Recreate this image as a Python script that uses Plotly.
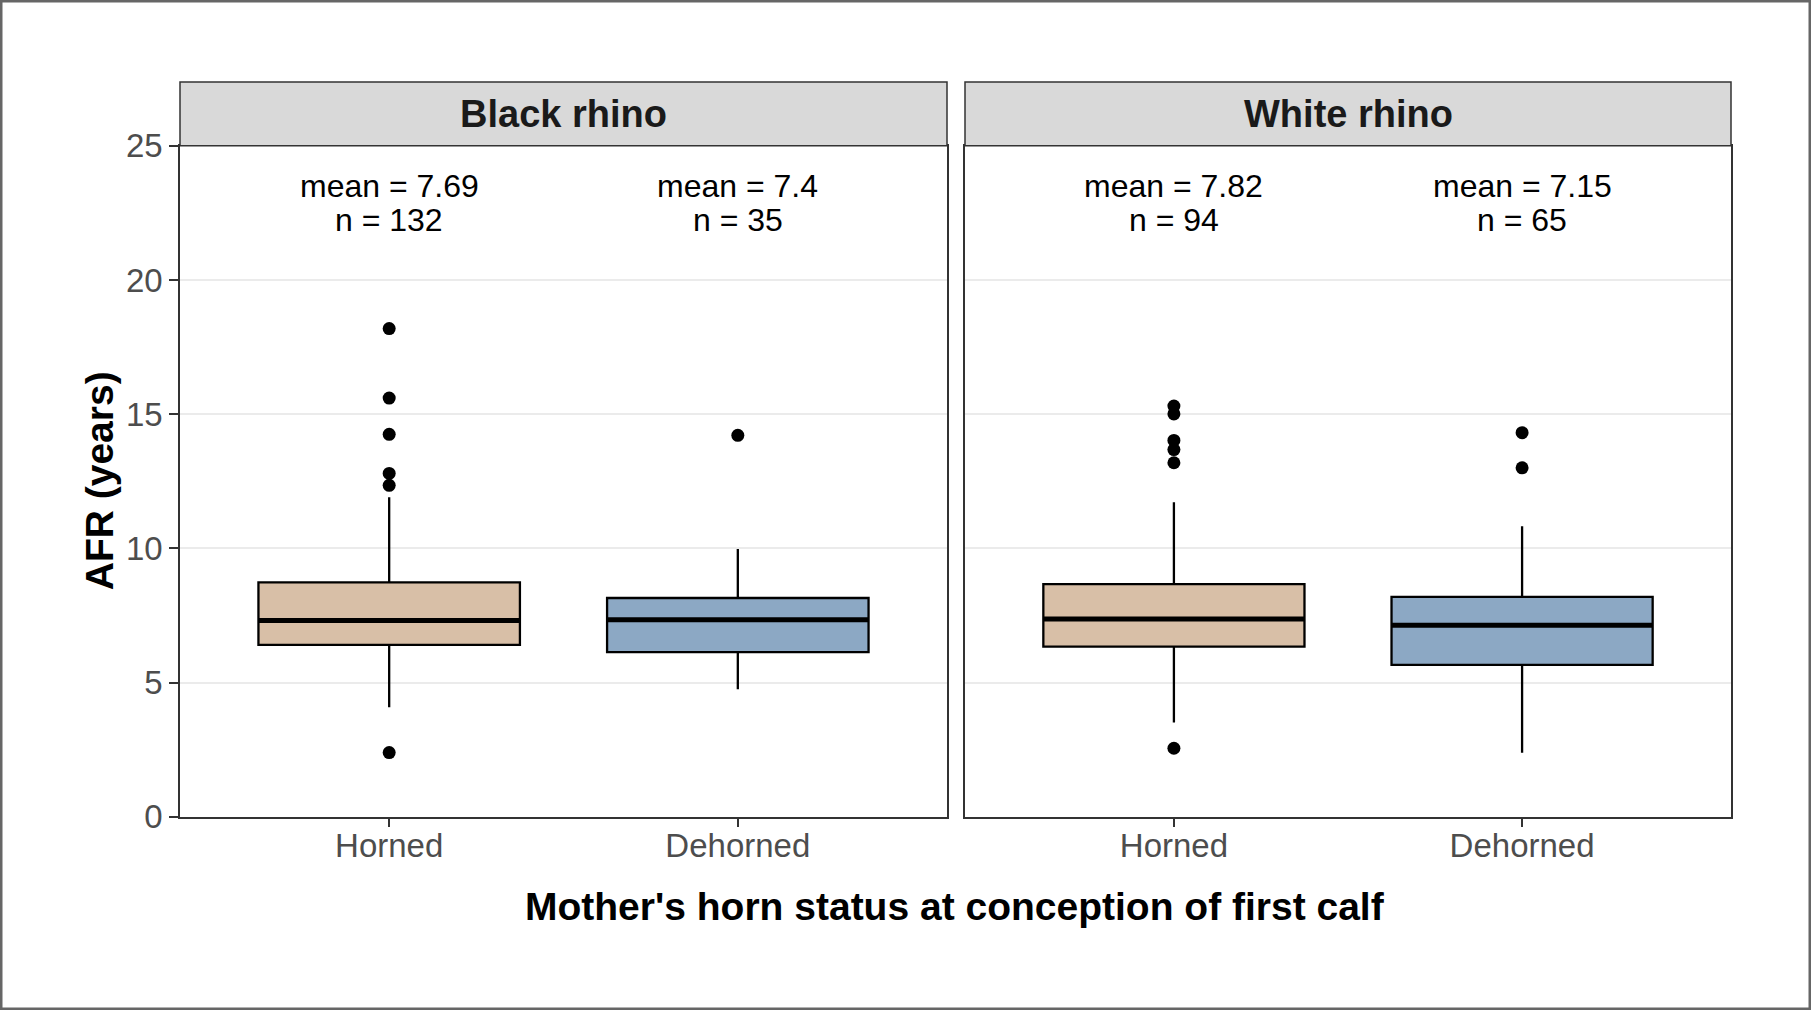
import plotly.graph_objects as go

# facets and categories
species = ["Black rhino", "White rhino"]
status = ["Horned", "Dehorned"]

# box statistics (AFR, years)
black_q1 = [6.40, 6.13]
black_median = [7.31, 7.34]
black_q3 = [8.73, 8.15]
black_lower = [4.08, 4.75]
black_upper = [11.90, 9.98]
black_outliers = [[18.19, 15.60, 14.25, 12.79, 12.35, 2.39], [14.21]]
black_mean = [7.69, 7.4]
black_n = [132, 35]

white_q1 = [6.34, 5.66]
white_median = [7.37, 7.13]
white_q3 = [8.67, 8.19]
white_lower = [3.51, 2.38]
white_upper = [11.72, 10.82]
white_outliers = [[15.30, 15.01, 14.02, 13.68, 13.19, 2.55], [14.31, 13.00]]
white_mean = [7.82, 7.15]
white_n = [94, 65]

y_ticks = [0, 5, 10, 15, 20, 25]

fills = ["#D8BFA7", "#8CA8C4"]
FONT = "Liberation Sans, Arial, Helvetica, sans-serif"
W, H = 1811, 1010

panels = [
    (black_q1, black_median, black_q3, black_lower, black_upper, black_outliers, black_mean, black_n),
    (white_q1, white_median, white_q3, white_lower, white_upper, white_outliers, white_mean, white_n),
]

# pixel layout -> paper fractions
x_domains = [[180 / W, 947 / W], [965 / W, 1731 / W]]
panel_bottom = (H - 816.7) / H
panel_top = (H - 145.8) / H
strip_top = (H - 82) / H

fig = go.Figure()
annotations = []
shapes = []
bw = 0.75

for p, (q1, med, q3, lo, hi, outs, means, ns) in enumerate(panels):
    xa = "x" if p == 0 else "x2"
    ya = "y" if p == 0 else "y2"
    for i in range(len(status)):
        xc = i + 1
        fig.add_trace(go.Box(
            x=[xc], q1=[q1[i]], median=[med[i]], q3=[q3[i]],
            lowerfence=[lo[i]], upperfence=[hi[i]],
            width=bw, whiskerwidth=0, boxpoints=False,
            fillcolor=fills[i], line=dict(color="black", width=2.3),
            xaxis=xa, yaxis=ya, showlegend=False, hoverinfo="skip"))
        # thicker median line like ggplot
        fig.add_trace(go.Scatter(
            x=[xc - bw / 2, xc + bw / 2], y=[med[i], med[i]], mode="lines",
            line=dict(color="black", width=5), xaxis=xa, yaxis=ya,
            showlegend=False, hoverinfo="skip"))
        fig.add_trace(go.Scatter(
            x=[xc] * len(outs[i]), y=outs[i], mode="markers",
            marker=dict(color="black", size=13), xaxis=xa, yaxis=ya,
            showlegend=False, hoverinfo="skip"))
        annotations.append(dict(x=xc, y=23.5, xref=xa, yref=ya, text=f"mean = {means[i]}",
                                xanchor="center", yanchor="middle", showarrow=False,
                                font=dict(family=FONT, size=32, color="black")))
        annotations.append(dict(x=xc, y=22.25, xref=xa, yref=ya, text=f"n = {ns[i]}",
                                xanchor="center", yanchor="middle", showarrow=False,
                                font=dict(family=FONT, size=32, color="black")))
    # facet strip
    shapes.append(dict(type="rect", xref=f"{xa} domain", yref="paper", x0=0, x1=1,
                       y0=panel_top, y1=strip_top, fillcolor="#D9D9D9",
                       line=dict(color="#333333", width=1.5), layer="above"))
    annotations.append(dict(x=sum(x_domains[p]) / 2, y=(panel_top + strip_top) / 2,
                            xref="paper", yref="paper", text=f"<b>{species[p]}</b>",
                            xanchor="center", yanchor="middle", showarrow=False,
                            font=dict(family=FONT, size=38, color="#1A1A1A")))

# axis titles
annotations.append(dict(x=(180 + 1731) / 2 / W, y=(H - 906.7) / H, xref="paper", yref="paper",
                        text="<b>Mother's horn status at conception of first calf</b>",
                        xanchor="center", yanchor="middle", showarrow=False,
                        font=dict(family=FONT, size=39, color="black")))
annotations.append(dict(x=99 / W, y=(panel_top + panel_bottom) / 2, xref="paper", yref="paper",
                        text="<b>AFR (years)</b>", textangle=-90,
                        xanchor="center", yanchor="middle", showarrow=False,
                        font=dict(family=FONT, size=39, color="black")))

# outer frame of the image
shapes.append(dict(type="rect", xref="paper", yref="paper", x0=0, x1=1, y0=0, y1=1,
                   line=dict(color="#666666", width=5)))

xaxis_common = dict(range=[0.4, 2.6], tickvals=[1, 2], ticktext=status, ticks="outside",
                    ticklen=9, tickwidth=1.5, tickcolor="#333333", showline=True, mirror=True,
                    linecolor="#333333", linewidth=1.5, showgrid=False, zeroline=False,
                    automargin=False, ticklabelstandoff=-10,
                    tickfont=dict(family=FONT, size=33, color="#4D4D4D"),
                    fixedrange=True)
yaxis_common = dict(range=[0, 25], tickvals=y_ticks, showline=True, mirror=True,
                    linecolor="#333333", linewidth=1.5, showgrid=True, gridcolor="#EBEBEB",
                    gridwidth=2, zeroline=False, fixedrange=True, automargin=False,
                    domain=[panel_bottom, panel_top],
                    tickfont=dict(family=FONT, size=33, color="#4D4D4D"))

fig.update_layout(
    template="none",
    width=W, height=H, margin=dict(l=0, r=0, t=0, b=0, pad=0, autoexpand=False),
    paper_bgcolor="white", plot_bgcolor="white", boxmode="overlay",
    xaxis=dict(domain=x_domains[0], anchor="y", **xaxis_common),
    xaxis2=dict(domain=x_domains[1], anchor="y2", **xaxis_common),
    yaxis=dict(anchor="x", ticks="outside", ticklen=9, tickwidth=1.5, tickcolor="#333333",
               **yaxis_common),
    yaxis2=dict(anchor="x2", ticks="", showticklabels=False, matches="y", **yaxis_common),
    annotations=annotations, shapes=shapes, showlegend=False,
)

fig.write_html("out.html", config={"displayModeBar": False},
               post_script="document.body.style.margin='0';")
